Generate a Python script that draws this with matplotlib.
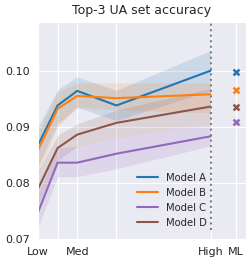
import matplotlib
matplotlib.use("Agg")
import matplotlib.pyplot as plt
import seaborn as sns

# x positions of the evaluation points (Low ... High), plus the ML reference
x_points = [0, 1, 2, 4, 8.8]
x_ml = 10.1
tick_pos = [0, 1, 2, 4, 8.8, 10.1]
tick_labels = ["Low", "", "Med", "", "High", "ML"]

models = ["Model A", "Model B", "Model C", "Model D"]
colors = ["#1f77b4", "#ff7f0e", "#9467bd", "#8c564b"]

mean_a = [0.0867, 0.0938, 0.0964, 0.0938, 0.1000]
mean_b = [0.0858, 0.0932, 0.0955, 0.0951, 0.0958]
mean_c = [0.0747, 0.0836, 0.0836, 0.0852, 0.0883]
mean_d = [0.0789, 0.0862, 0.0886, 0.0907, 0.0936]

low_a = [0.0830, 0.0905, 0.0935, 0.0911, 0.0965]
high_a = [0.0900, 0.0966, 0.0989, 0.0965, 0.1036]
low_b = [0.0815, 0.0900, 0.0934, 0.0930, 0.0925]
high_b = [0.0890, 0.0962, 0.0978, 0.0978, 0.0978]
low_c = [0.0720, 0.0811, 0.0811, 0.0825, 0.0866]
high_c = [0.0780, 0.0862, 0.0865, 0.0880, 0.0905]
low_d = [0.0760, 0.0840, 0.0865, 0.0880, 0.0905]
high_d = [0.0820, 0.0885, 0.0905, 0.0930, 0.0968]

ml_values = [0.0998, 0.0966, 0.0908, 0.0935]

sns.set_style("darkgrid")

fig, ax = plt.subplots(figsize=(2.53, 2.64), dpi=100)

means = [mean_a, mean_b, mean_c, mean_d]
lows = [low_a, low_b, low_c, low_d]
highs = [high_a, high_b, high_c, high_d]

for name, color, mean, lo, hi in zip(models, colors, means, lows, highs):
    ax.fill_between(x_points, lo, hi, color=color, alpha=0.15, linewidth=0)
    ax.plot(x_points, mean, color=color, linewidth=1.5, label=name)

for color, val in zip(colors, ml_values):
    ax.scatter([x_ml], [val], marker="x", color=color, s=18, linewidths=1.8, zorder=3)

ax.axvline(x_points[-1], ymin=0.04, ymax=1, color="gray", linestyle=":", linewidth=1.5)

ax.set_xlim(0, 10.6)
ax.set_ylim(0.07, 0.1087)
ax.set_xticks(tick_pos)
ax.set_xticklabels(tick_labels)
ax.set_yticks([0.07, 0.08, 0.09, 0.10])
ax.set_yticklabels(["0.07", "0.08", "0.09", "0.10"])
ax.tick_params(labelsize=8, pad=2)
ax.set_title("Top-3 UA set accuracy", fontsize=9)

ax.legend(loc="lower right", bbox_to_anchor=(0.855, 0.01), frameon=False, fontsize=7.2,
          handlelength=2.1)

fig.subplots_adjust(left=0.15, right=0.972, bottom=0.095, top=0.917)
fig.savefig("out.png", dpi=100)
